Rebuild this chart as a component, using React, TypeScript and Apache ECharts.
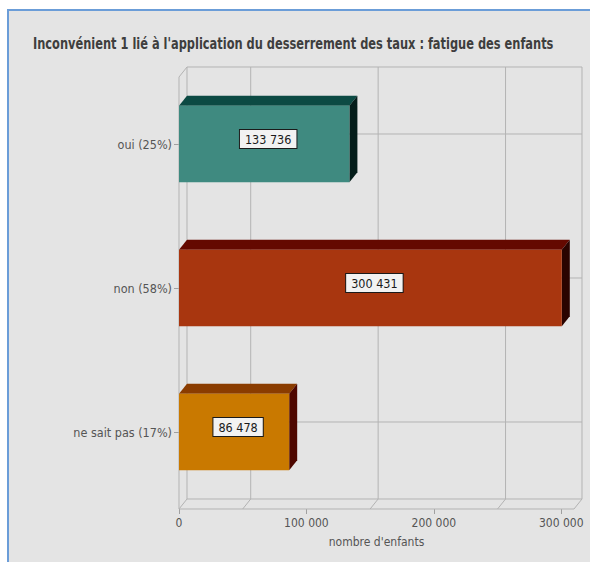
import React, { useEffect, useRef } from "react";
import * as echarts from "echarts";

const titleText = "Inconvénient 1 lié à l'application du desserrement des taux : fatigue des enfants";
const categories = ["oui (25%)", "non (58%)", "ne sait pas (17%)"];
const values = [133736, 300431, 86478];
const frontColors = ["#3f8a80", "#a8360f", "#c97900"];
const topColors = ["#0c4a43", "#640900", "#8a3c00"];
const sideColors = ["#041d1a", "#2a0400", "#4e0700"];
const xTickValues = [0, 100000, 200000, 300000];
const backGridValues = [50000, 150000, 250000];
const axisName = "nombre d'enfants";

const FONT = "'DejaVu Sans Condensed', 'DejaVu Sans', sans-serif";
const TITLE_FONT = `bold 15px ${FONT}`;
const TITLE_WIDTH = 521;
const DX = 8;
const DY = 10;
const GRID_COLOR = "#b3b3b3";

const fmt = (v: number) => String(v).replace(/\B(?=(\d{3})+(?!\d))/g, " ");

function measure(text: string, font: string): number {
  const c = document.createElement("canvas").getContext("2d");
  if (!c) return TITLE_WIDTH;
  c.font = font;
  return c.measureText(text).width;
}

export default function App() {
  const ref = useRef<HTMLDivElement>(null);
  useEffect(() => {
    if (!ref.current) return;
    const chart = echarts.init(ref.current, null, { renderer: "svg" });
    const lineStyle = { stroke: GRID_COLOR, lineWidth: 1 };
    const tw = measure(titleText, TITLE_FONT);
    const sx = Math.min(1, TITLE_WIDTH / tw);
    chart.setOption({
      animation: false,
      backgroundColor: "#ffffff",
      graphic: [
        {
          type: "rect",
          z: -10,
          silent: true,
          shape: { x: 8, y: 10, width: 600, height: 600 },
          style: { fill: "#e4e4e4", stroke: "#6b9dd8", lineWidth: 2 },
        },
        {
          type: "text",
          z: 10,
          silent: true,
          x: 33,
          y: 44,
          scaleX: sx,
          style: {
            text: titleText,
            font: TITLE_FONT,
            fill: "#3e3e3e",
            align: "left",
            verticalAlign: "middle",
          },
        },
      ],
      grid: { left: 179, right: 16, top: 72, bottom: 58, containLabel: false },
      xAxis: {
        type: "value",
        min: 0,
        max: 310000,
        interval: 100000,
        offset: 5,
        splitLine: { show: false },
        axisLine: { show: false },
        axisTick: { show: true, length: 5, customValues: xTickValues, lineStyle: { color: "#a0a0a0" } },
        axisLabel: {
          customValues: xTickValues,
          formatter: (v: number) => fmt(v),
          margin: 8,
          fontFamily: FONT,
          fontSize: 12,
          color: "#555555",
        },
        name: axisName,
        nameLocation: "middle",
        nameGap: 27,
        nameTextStyle: { fontFamily: FONT, fontSize: 12, color: "#555555" },
      },
      yAxis: {
        type: "category",
        inverse: true,
        data: categories,
        axisLine: { show: false },
        axisTick: { show: true, alignWithLabel: true, length: 5, lineStyle: { color: "#a0a0a0" } },
        axisLabel: { margin: 7, fontFamily: FONT, fontSize: 12.5, color: "#555555", padding: [3, 0, 0, 0] },
        splitLine: { show: false },
      },
      series: [
        {
          type: "custom",
          z: 1,
          silent: true,
          data: [[0, 0]],
          encode: { x: 0, y: 1 },
          renderItem: (params: any, api: any) => {
            const cs = params.coordSys;
            const x0 = api.coord([0, 0])[0];
            const xr = cs.x + cs.width;
            const ft = cs.y + 5;
            const fb = cs.y + cs.height + 5;
            const children: any[] = [];
            const ln = (x1: number, y1: number, x2: number, y2: number) =>
              children.push({ type: "line", shape: { x1, y1, x2, y2 }, style: lineStyle });
            // back wall
            ln(x0 + DX, ft - DY, xr + DX, ft - DY);
            ln(x0 + DX, ft - DY, x0 + DX, fb - DY);
            ln(xr + DX, ft - DY, xr + DX, fb - DY);
            ln(x0 + DX, fb - DY, xr + DX, fb - DY);
            // left wall
            ln(x0, ft, x0 + DX, ft - DY);
            ln(x0, ft, x0, fb);
            ln(x0, fb, x0 + DX, fb - DY);
            // floor front
            ln(x0, fb, xr, fb);
            ln(xr, fb, xr + DX, fb - DY);
            // vertical back gridlines + floor diagonals
            backGridValues.forEach((v) => {
              const x = api.coord([v, 0])[0];
              ln(x + DX, ft - DY, x + DX, fb - DY);
              ln(x, fb, x + DX, fb - DY);
            });
            // category lines on back wall
            categories.forEach((_, i) => {
              const y = api.coord([0, i])[1];
              ln(x0 + DX, y - DY, xr + DX, y - DY);
            });
            return { type: "group", children };
          },
        },
        {
          type: "custom",
          z: 3,
          silent: true,
          data: values.map((v, i) => [v, i]),
          encode: { x: 0, y: 1 },
          renderItem: (params: any, api: any) => {
            const i = params.dataIndex;
            const v = api.value(0);
            const [xs, yc] = api.coord([0, i]);
            const xe = api.coord([v, i])[0];
            const h = api.size([0, 1])[1] * 0.53;
            const yt = yc - h / 2;
            const yb = yc + h / 2;
            return {
              type: "group",
              children: [
                {
                  type: "polygon",
                  shape: { points: [[xs, yt], [xe, yt], [xe + DX, yt - DY], [xs + DX, yt - DY]] },
                  style: { fill: topColors[i] },
                },
                {
                  type: "polygon",
                  shape: { points: [[xe, yt], [xe + DX, yt - DY], [xe + DX, yb - DY], [xe, yb]] },
                  style: { fill: sideColors[i] },
                },
                {
                  type: "rect",
                  shape: { x: xs, y: yt, width: xe - xs, height: h },
                  style: { fill: frontColors[i] },
                },
                {
                  type: "text",
                  z2: 10,
                  style: {
                    x: (xs + xe) / 2 + DX / 2,
                    y: yc - DY / 2,
                    text: fmt(values[i]),
                    fill: "#1a1a1a",
                    font: `12.5px ${FONT}`,
                    align: "center",
                    verticalAlign: "middle",
                    backgroundColor: "#f2f2f2",
                    borderColor: "#1a1a1a",
                    borderWidth: 1,
                    padding: [3, 5, 2, 5],
                  },
                },
              ],
            };
          },
        },
      ],
    });
    return () => chart.dispose();
  }, []);
  return (
    <div
      ref={ref}
      style={{ position: "fixed", left: 0, top: 0, width: 590, height: 562 }}
    />
  );
}
